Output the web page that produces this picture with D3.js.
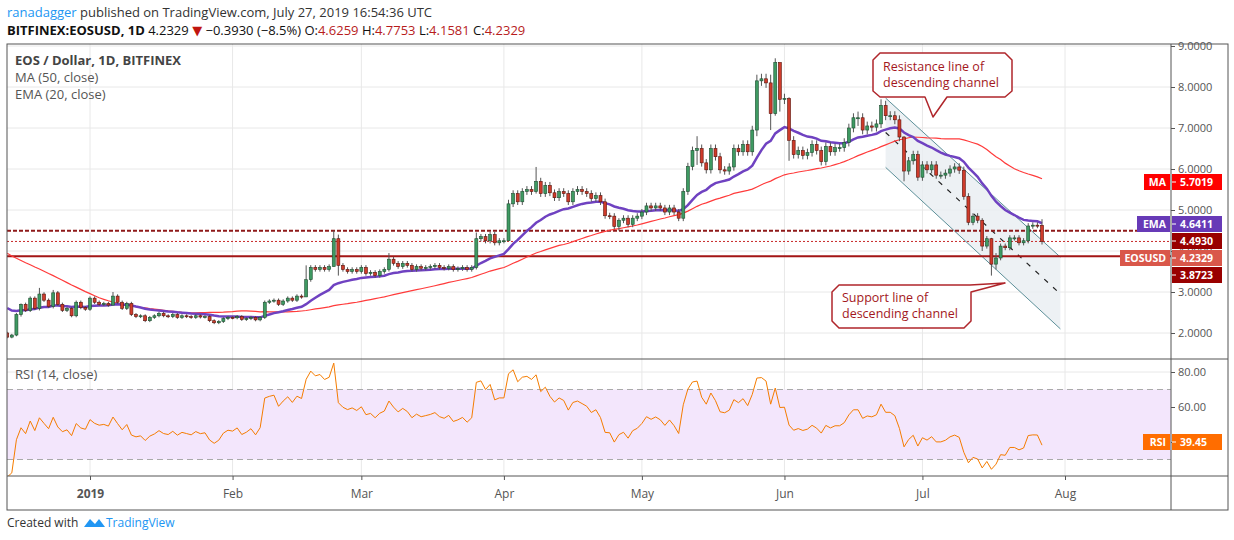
<!DOCTYPE html>
<html><head><meta charset="utf-8">
<script src="https://cdn.jsdelivr.net/npm/d3@7"></script>
<style>
body{margin:0;background:#fff;font-family:"Open Sans","DejaVu Sans",sans-serif}
svg text{font-family:"Open Sans","DejaVu Sans",sans-serif}
</style></head><body>
<svg id="c" width="1234" height="540"></svg>
<script>
// closes before the visible range (Oct 25 - Dec 13 2018), only used to seed MA/EMA/RSI
var priorCloses = [5.30,5.35,5.32,5.28,5.30,5.36,5.38,5.40,5.45,5.50,5.55,5.48,5.45,5.40,5.38,5.35,5.30,5.32,5.28,5.30,5.25,
  4.60,4.45,4.50,4.30,3.80,3.40,3.60,3.40,3.30,3.00,3.20,3.00,3.10,3.20,3.10,3.00,
  3.10,3.00,2.70,2.65,2.50,2.20,2.10,2.20,2.30,2.20,2.15,2.00,2.00]

var firstDay = '2018-12-14'
var closes = [
  // Dec 14 - 31
  1.90,1.95,2.45,2.70,2.55,2.85,2.60,2.95,2.80,2.65,2.98,2.70,2.55,2.60,2.42,2.75,2.62,2.58,
  // Jan
  2.85,2.75,2.70,2.72,2.68,2.90,2.75,2.60,2.72,2.45,2.40,2.42,2.30,2.38,2.42,2.48,2.42,2.40,2.45,2.38,2.42,2.40,2.38,2.42,2.39,2.40,2.30,2.25,2.28,2.35,2.38,
  // Feb
  2.37,2.40,2.33,2.35,2.38,2.32,2.38,2.75,2.78,2.80,2.70,2.78,2.85,2.80,2.90,2.88,3.30,3.60,3.55,3.60,3.55,3.62,4.30,3.65,3.55,3.50,3.55,3.50,
  // Mar
  3.60,3.45,3.48,3.40,3.50,3.55,3.80,3.70,3.62,3.70,3.65,3.55,3.62,3.58,3.60,3.62,3.65,3.60,3.58,3.62,3.55,3.57,3.60,3.55,3.60,4.30,4.35,4.25,4.40,4.20,4.25,
  // Apr
  4.25,5.15,5.40,5.20,5.45,5.50,5.45,5.70,5.40,5.60,5.42,5.30,5.45,5.40,5.20,5.45,5.50,5.45,5.40,5.28,5.35,5.20,4.86,4.85,4.60,4.75,4.80,4.65,4.80,4.85,
  // May
  4.95,5.10,5.05,5.10,5.05,4.95,5.05,4.95,4.80,5.45,6.06,6.45,6.50,6.15,5.98,6.50,6.30,5.98,5.95,6.05,6.50,6.42,6.60,6.42,6.95,8.15,8.20,8.10,7.35,8.60,7.70,
  // Jun
  7.72,6.70,6.35,6.45,6.33,6.40,6.60,6.45,6.18,6.55,6.42,6.52,6.52,6.65,7.00,7.25,7.25,6.95,7.05,7.02,7.10,7.55,7.30,7.30,7.20,6.78,5.95,6.20,6.35,5.80,
  // Jul 1 - 27
  6.10,5.98,6.10,5.85,5.85,5.90,6.00,6.05,5.97,5.33,4.70,4.85,4.75,4.12,4.30,3.68,3.83,4.12,4.08,4.32,4.32,4.20,4.25,4.61,4.63,4.6259,4.2329
]
// notable wicks: [date, high, low]
var wicks = [
  ['2018-12-17',2.72,2.40],['2018-12-21',3.10,2.55],['2018-12-24',3.05,2.60],['2019-01-06',3.00,2.70],
  ['2019-02-17',3.65,3.20],['2019-02-23',4.50,3.62],['2019-02-24',4.40,3.40],['2019-03-07',3.95,3.50],
  ['2019-03-26',4.45,3.55],['2019-04-02',5.25,4.25],['2019-04-08',6.05,5.40],['2019-04-26',4.80,4.50],
  ['2019-05-13',6.80,6.10],['2019-05-26',8.30,6.80],['2019-05-29',8.30,6.95],['2019-05-30',8.70,7.30],
  ['2019-05-31',8.55,7.40],['2019-06-02',7.75,6.20],['2019-06-17',7.40,7.05],['2019-06-22',7.70,7.00],
  ['2019-06-27',6.80,5.70],['2019-07-14',4.80,4.00],['2019-07-16',4.32,3.40],['2019-07-17',3.95,3.55],
  ['2019-07-27',4.7753,4.1581]
]

var priceTicks = [2,3,4,5,6,7,8,9]
var rsiTicks = [40,60,80]
var monthTicks = [['2019-01-01','2019'],['2019-02-01','Feb'],['2019-03-01','Mar'],['2019-04-01','Apr'],
  ['2019-05-01','May'],['2019-06-01','Jun'],['2019-07-01','Jul'],['2019-08-01','Aug']]
var levels = [4.4930, 3.8723]
// descending channel: [date, upper, middle, lower]
var channel = [['2019-06-23',7.73,6.89,6.04],['2019-07-31',3.85,2.95,2.10]]

var parse = d3.utcParse('%Y-%m-%d')
var DAY = 864e5
var t0 = parse(firstDay).getTime()

var PL = 7, PR = 1171, TOP = 44, DIV = 359, BOT = 476

var x = d3.scaleUtc().domain([parse('2019-01-01'), parse('2019-08-01')]).range([90, 1065])
var y = d3.scaleLinear().domain([2, 9]).range([333, 46])
var yr = d3.scaleLinear().domain([40, 80]).range([442, 372])

// candles
var wickMap = {}
wicks.forEach((w) => { wickMap[parse(w[0]).getTime()] = w })
var candles = closes.map((c, i) => {
  var t = t0 + i * DAY
  var o = i ? closes[i - 1] : priorCloses[priorCloses.length - 1]
  var w = wickMap[t]
  var hi = w ? w[1] : Math.max(o, c) * 1.015
  var lo = w ? w[2] : Math.min(o, c) * 0.985
  return {date: new Date(t), o, c, hi, lo}
})

// indicators from full close series
var all = priorCloses.concat(closes)
var off = priorCloses.length
var ma = closes.map((c, i) => d3.mean(all.slice(off + i - 49, off + i + 1)))
var ema = [], e = d3.mean(all.slice(0, 20)), k = 2 / 21
all.forEach((c, i) => { if (i >= 20) e = c * k + e * (1 - k); if (i >= off) ema.push(e) })
var rsi = [], ag = 0, al = 0
for (var i = 1; i < all.length; i++) {
  var ch = all[i] - all[i - 1], g = Math.max(ch, 0), l = Math.max(-ch, 0)
  if (i <= 14) { ag += g / 14; al += l / 14 } else { ag = (ag * 13 + g) / 14; al = (al * 13 + l) / 14 }
  if (i >= off) rsi.push(100 - 100 / (1 + ag / al))
}

var svg = d3.select('#c')

// header
var h1 = svg.append('text').attr('x', 7).attr('y', 17).attr('font-size', 13).attr('fill', '#333')
h1.append('tspan').attr('fill', '#2196f3').text('ranadagger')
h1.append('tspan').text(' published on TradingView.com, July 27, 2019 16:54:36 UTC')
var h2 = svg.append('text').attr('x', 7).attr('y', 35).attr('font-size', 13).attr('fill', '#111')
h2.append('tspan').attr('font-weight', 'bold').text('BITFINEX:EOSUSD, 1D')
h2.append('tspan').text('  4.2329 ')
h2.append('tspan').attr('fill', '#c0150f').text('▼')
h2.append('tspan').text(' −0.3930 (−8.5%) O:')
h2.append('tspan').attr('fill', '#b71c1c').text('4.6259')
h2.append('tspan').text(' H:')
h2.append('tspan').attr('fill', '#b71c1c').text('4.7753')
h2.append('tspan').text(' L:')
h2.append('tspan').attr('fill', '#b71c1c').text('4.1581')
h2.append('tspan').text(' C:')
h2.append('tspan').attr('fill', '#b71c1c').text('4.2329')

// grid
var grid = svg.append('g').attr('stroke', '#e8e8e8')
monthTicks.forEach((m) => {
  var xx = x(parse(m[0]))
  grid.append('line').attr('x1', xx).attr('x2', xx).attr('y1', TOP).attr('y2', BOT)
})
priceTicks.forEach((p) => grid.append('line').attr('x1', PL).attr('x2', PR).attr('y1', y(p)).attr('y2', y(p)))
rsiTicks.forEach((p) => grid.append('line').attr('x1', PL).attr('x2', PR).attr('y1', yr(p)).attr('y2', yr(p)))

// clip
svg.append('clipPath').attr('id', 'mainclip').append('rect').attr('x', PL).attr('y', TOP).attr('width', PR - PL).attr('height', DIV - TOP)
svg.append('clipPath').attr('id', 'rsiclip').append('rect').attr('x', PL).attr('y', DIV).attr('width', PR - PL).attr('height', BOT - DIV)
var main = svg.append('g').attr('clip-path', 'url(#mainclip)')

// channel
var cx = channel.map((c) => x(parse(c[0])))
main.append('path')
  .attr('d', `M${cx[0]},${y(channel[0][1])}L${cx[1]},${y(channel[1][1])}L${cx[1]},${y(channel[1][3])}L${cx[0]},${y(channel[0][3])}Z`)
  .attr('fill', '#e9edf1').attr('opacity', 0.8)
;[1, 3].forEach((j) => main.append('line').attr('x1', cx[0]).attr('x2', cx[1])
  .attr('y1', y(channel[0][j])).attr('y2', y(channel[1][j])).attr('stroke', '#5c8f98').attr('stroke-width', 1))
main.append('line').attr('x1', cx[0]).attr('x2', cx[1]).attr('y1', y(channel[0][2])).attr('y2', y(channel[1][2]))
  .attr('stroke', '#222').attr('stroke-width', 1.2).attr('stroke-dasharray', '5,7')

// horizontal levels
main.append('line').attr('x1', PL).attr('x2', PR).attr('y1', y(levels[0])).attr('y2', y(levels[0]))
  .attr('stroke', '#8e1a1a').attr('stroke-width', 2).attr('stroke-dasharray', '4,2')
main.append('line').attr('x1', PL).attr('x2', PR).attr('y1', y(levels[1])).attr('y2', y(levels[1]))
  .attr('stroke', '#a31515').attr('stroke-width', 2)
var last = closes[closes.length - 1]
main.append('line').attr('x1', PL).attr('x2', PR).attr('y1', y(last)).attr('y2', y(last))
  .attr('stroke', '#c62828').attr('stroke-width', 1).attr('stroke-dasharray', '2,2')

// MA / EMA
var line = d3.line().x((d, i) => x(candles[i].date)).y((d) => y(d))
main.append('path').datum(ma).attr('d', line).attr('fill', 'none').attr('stroke', '#ff3b3b').attr('stroke-width', 1.2)
main.append('path').datum(ema).attr('d', line).attr('fill', 'none').attr('stroke', '#6f42c1').attr('stroke-width', 2.5)

// candles
var cw = 3
var cg = main.selectAll('.candle').data(candles).enter().append('g')
cg.append('line').attr('x1', (d) => x(d.date)).attr('x2', (d) => x(d.date))
  .attr('y1', (d) => y(d.hi)).attr('y2', (d) => y(d.lo)).attr('stroke', '#555')
cg.append('rect').attr('x', (d) => x(d.date) - cw / 2).attr('width', cw)
  .attr('y', (d) => y(Math.max(d.o, d.c))).attr('height', (d) => Math.max(1, Math.abs(y(d.o) - y(d.c))))
  .attr('fill', (d) => d.c >= d.o ? '#3e9a62' : '#cf3b2b')
  .attr('stroke', (d) => d.c >= d.o ? '#1f4d31' : '#5a140d').attr('stroke-width', 0.6)

// callouts
function callout(pts, lines, tx, ty) {
  svg.append('path').attr('d', 'M' + pts.join('L') + 'Z').attr('fill', '#fff')
    .attr('stroke', '#b0262b').attr('stroke-width', 1.5).attr('stroke-linejoin', 'round')
  lines.forEach((t, i) => svg.append('text').attr('x', tx).attr('y', ty + i * 16).attr('font-size', 12.5)
    .attr('fill', '#a3181d').text(t))
}
callout([[880, 53], [1005, 53], [1012, 60], [1012, 91], [1005, 97], [947, 97], [933, 117], [925, 97], [880, 97], [873, 91], [873, 60]],
  ['Resistance line of', 'descending channel'], 883, 71)
callout([[839, 285], [970, 285], [1005, 283], [971, 292], [971, 321], [964, 328], [839, 328], [832, 321], [832, 292]],
  ['Support line of', 'descending channel'], 842, 302)

// RSI pane
var rg = svg.append('g').attr('clip-path', 'url(#rsiclip)')
rg.append('rect').attr('x', PL).attr('width', PR - PL).attr('y', yr(70)).attr('height', yr(30) - yr(70)).attr('fill', '#f3e6fc')
;[70, 30].forEach((v) => rg.append('line').attr('x1', PL).attr('x2', PR).attr('y1', yr(v)).attr('y2', yr(v))
  .attr('stroke', '#aaa').attr('stroke-dasharray', '6,4'))
rg.append('path').datum(rsi).attr('d', d3.line().x((d, i) => x(candles[i].date)).y((d) => yr(d)))
  .attr('fill', 'none').attr('stroke', '#f57c00').attr('stroke-width', 1)

// frame
var fr = svg.append('g').attr('stroke', '#555').attr('fill', 'none')
fr.append('rect').attr('x', PL).attr('y', TOP).attr('width', 1228 - PL).attr('height', 510 - TOP)
fr.append('line').attr('x1', PL).attr('x2', 1228).attr('y1', DIV).attr('y2', DIV)
fr.append('line').attr('x1', PL).attr('x2', 1228).attr('y1', BOT).attr('y2', BOT)
fr.append('line').attr('x1', PR).attr('x2', PR).attr('y1', TOP).attr('y2', 510)

// legends
svg.append('text').attr('x', 15).attr('y', 65).attr('font-size', 13).attr('font-weight', 'bold').attr('fill', '#444').text('EOS / Dollar, 1D, BITFINEX')
svg.append('text').attr('x', 15).attr('y', 82).attr('font-size', 13).attr('fill', '#555').text('MA (50, close)')
svg.append('text').attr('x', 15).attr('y', 99).attr('font-size', 13).attr('fill', '#555').text('EMA (20, close)')
svg.append('text').attr('x', 15).attr('y', 379).attr('font-size', 13).attr('fill', '#555').text('RSI (14, close)')

// right axes
var ay = svg.append('g').attr('transform', `translate(${PR},0)`)
  .call(d3.axisRight(y).tickValues(priceTicks).tickFormat(d3.format('.4f')).tickSize(4))
var ar = svg.append('g').attr('transform', `translate(${PR},0)`)
  .call(d3.axisRight(yr).tickValues(rsiTicks).tickFormat(d3.format('.2f')).tickSize(4))
;[ay, ar].forEach((a) => {
  a.select('.domain').remove()
  a.selectAll('line').attr('stroke', '#555')
  a.selectAll('text').attr('fill', '#555').attr('font-family', '"DejaVu Sans",sans-serif').attr('font-size', 11)
})

// bottom axis
var ax = svg.append('g').attr('transform', `translate(0,${BOT})`)
  .call(d3.axisBottom(x).tickValues(monthTicks.map((m) => parse(m[0]))).tickFormat((d, i) => monthTicks[i][1]).tickSize(4).tickPadding(9))
ax.select('.domain').remove()
ax.selectAll('line').attr('stroke', '#555')
ax.selectAll('text').attr('font-size', 12).attr('fill', '#555').attr('font-weight', (d, i) => i ? null : 'bold')

// price labels
function tag(val, name, color, yy, nameW) {
  var g = svg.append('g')
  if (name) {
    g.append('rect').attr('x', PR - nameW - 1).attr('y', yy - 8).attr('width', nameW).attr('height', 16).attr('fill', color)
    g.append('text').attr('x', PR - 5).attr('y', yy + 4).attr('text-anchor', 'end').attr('font-size', 10.5).attr('font-weight', 'bold').attr('fill', '#fff').text(name)
  }
  g.append('rect').attr('x', PR + 1).attr('y', yy - 8).attr('width', 50).attr('height', 16).attr('fill', color)
  g.append('line').attr('x1', PR + 1).attr('x2', PR + 5).attr('y1', yy).attr('y2', yy).attr('stroke', '#fff')
  g.append('text').attr('x', PR + 9).attr('y', yy + 4).attr('font-size', 10.5).attr('font-weight', 'bold').attr('fill', '#fff').text(val)
}
tag('5.7019', 'MA', '#ff0000', 182, 26)
tag('4.6411', 'EMA', '#673ab7', 224, 33)
tag(d3.format('.4f')(levels[0]), '', '#990000', 241, 0)
tag(d3.format('.4f')(last), 'EOSUSD', '#d9574a', 258, 50)
tag(d3.format('.4f')(levels[1]), '', '#990000', 275, 0)
tag('39.45', 'RSI', '#ff6d00', 442, 27)

// footer
svg.append('text').attr('x', 7).attr('y', 527).attr('font-size', 12).attr('fill', '#333').text('Created with')
svg.append('path').attr('d', 'M84,527 l6,-8 l5,5 l4,-5 l6,8 z').attr('fill', '#2196f3')
svg.append('text').attr('x', 106).attr('y', 527).attr('font-size', 12).attr('fill', '#2196f3').text('TradingView')
</script></body></html>
